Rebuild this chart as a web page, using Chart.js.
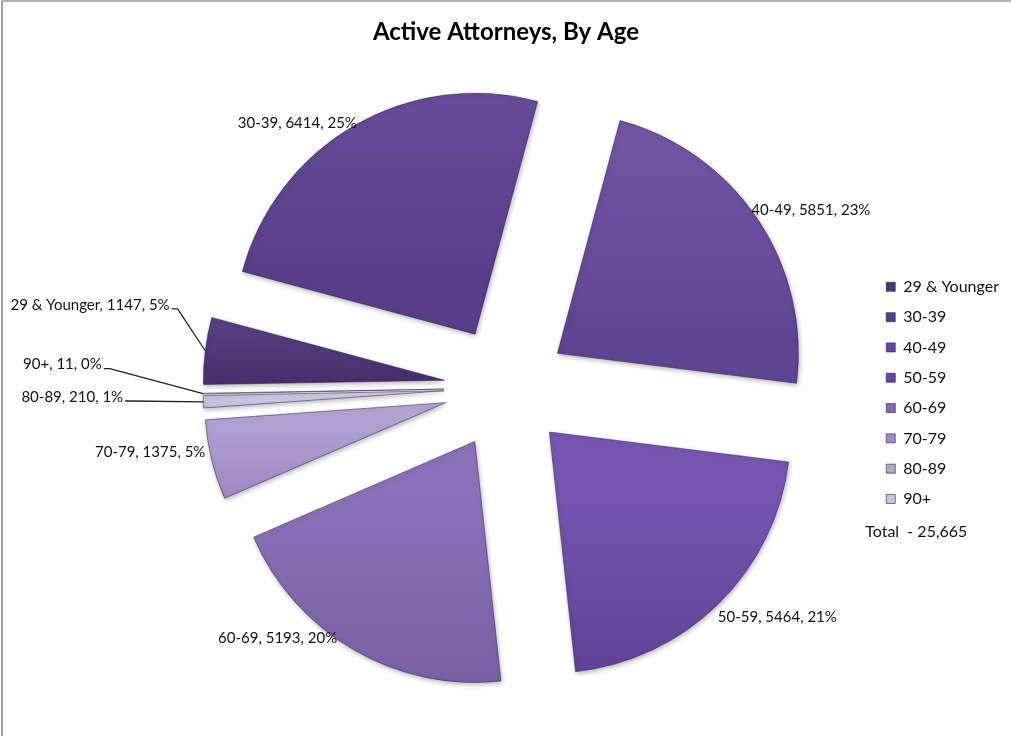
<!DOCTYPE html>
<html>
<head>
<meta charset="utf-8">
<title>Active Attorneys, By Age</title>
<script src="https://cdn.jsdelivr.net/npm/chart.js@4.4.1/dist/chart.umd.min.js"></script>
<style>
  html, body { margin: 0; padding: 0; background: #fff; }
  #frame {
    position: absolute; left: 1px; top: 0;
    width: 1008px; height: 734px;
    border-left: 2px solid #a3a3a3; border-top: 2px solid #b5b5b5;
  }
  canvas { display: block; }
</style>
</head>
<body>
<div id="frame"><canvas id="chartCanvas" width="1008" height="734"></canvas></div>
<script>
const ageGroups = ["29 & Younger", "30-39", "40-49", "50-59", "60-69", "70-79", "80-89", "90+"];
const attorneyCounts = [1147, 6414, 5851, 5464, 5193, 1375, 210, 11];
const percentLabels = [5, 25, 23, 21, 20, 5, 1, 0];

// slice shading (top -> bottom) and flat legend swatches
const sliceTop = ["#5c4489", "#6b4f9e", "#7658a9", "#7656b2", "#8a72b8", "#b2a3d4", "#d8d0ea", "#ece9f3"];
const sliceBottom = ["#46316d", "#583e88", "#5e4592", "#5b3f92", "#745ba0", "#9885bd", "#bfb4d6", "#d9d3e6"];
const legendColors = ["#4b3670", "#583e88", "#6845a0", "#6a42ad", "#8568b2", "#a18bc4", "#b3aac3", "#cac4d6"];

// label placement: degrees clockwise from 12 o'clock, distance in pie radii
const labelAngle = [281.3, 321.8, 59.7, 130.2, 222.4, 259.8, 268.8, 273.0];
const labelDist = [1.76, 1.40, 1.465, 1.474, 1.405, 1.50, 1.80, 1.843];
const leaderLines = [true, false, false, false, false, false, true, true];

const PIE_RADIUS = 241;
const EXPLODE = 62;
const ROTATION = 269;
const FONT = "Lato, 'Open Sans', sans-serif";

const total = attorneyCounts.reduce((a, b) => a + b, 0);

function sliceAngles(i) {
  let start = ROTATION;
  for (let k = 0; k < i; k++) start += attorneyCounts[k] / total * 360;
  return { start, end: start + attorneyCounts[i] / total * 360 };
}

// vertical gradient over the bounding box of each exploded slice
function sliceFill(context) {
  const chart = context.chart;
  const i = context.dataIndex;
  if (i === undefined) return sliceBottom[0];
  const area = chart.chartArea;
  if (!area) return sliceBottom[i];
  const cx = (area.left + area.right) / 2;
  const cy = (area.top + area.bottom) / 2;
  const { start, end } = sliceAngles(i);
  const mid = (start + end) / 2 * Math.PI / 180;
  const oy = cy - Math.cos(mid) * EXPLODE;
  let top = oy, bottom = oy;
  for (let s = 0; s <= 24; s++) {
    const a = (start + (end - start) * s / 24) * Math.PI / 180;
    const y = oy - Math.cos(a) * PIE_RADIUS;
    top = Math.min(top, y);
    bottom = Math.max(bottom, y);
  }
  if (bottom - top < 2) bottom = top + 2;
  const g = chart.ctx.createLinearGradient(0, top, 0, bottom);
  g.addColorStop(0, sliceTop[i]);
  g.addColorStop(1, sliceBottom[i]);
  return g;
}

// draw every arc pushed out along its bisector
const explodePlugin = {
  id: "explode",
  beforeDatasetDraw(chart, args) {
    const ctx = chart.ctx;
    args.meta.data.forEach((arc) => {
      const mid = (arc.startAngle + arc.endAngle) / 2;
      ctx.save();
      ctx.translate(Math.cos(mid) * EXPLODE, Math.sin(mid) * EXPLODE);
      ctx.shadowColor = "rgba(0,0,0,0.28)";
      ctx.shadowBlur = 5;
      ctx.shadowOffsetX = 1;
      ctx.shadowOffsetY = 2;
      arc.draw(ctx);
      ctx.restore();
    });
    return false;
  }
};

const labelPlugin = {
  id: "sliceLabels",
  afterDraw(chart) {
    const ctx = chart.ctx;
    const arcs = chart.getDatasetMeta(0).data;
    ctx.save();
    ctx.font = "15px " + FONT;
    ctx.fillStyle = "#111";
    ctx.strokeStyle = "#222";
    ctx.lineWidth = 1.3;
    ctx.textBaseline = "middle";
    ctx.textAlign = "center";
    arcs.forEach((arc, i) => {
      const text = `${ageGroups[i]}, ${attorneyCounts[i]}, ${percentLabels[i]}%`;
      const a = (labelAngle[i] - 90) * Math.PI / 180;
      const r = labelDist[i] * arc.outerRadius;
      const tx = arc.x + Math.cos(a) * r;
      const ty = arc.y + Math.sin(a) * r;
      ctx.fillText(text, tx, ty);
      if (leaderLines[i]) {
        const w = ctx.measureText(text).width;
        const mid = (arc.startAngle + arc.endAngle) / 2;
        const ex = arc.x + Math.cos(mid) * (EXPLODE + arc.outerRadius);
        const ey = arc.y + Math.sin(mid) * (EXPLODE + arc.outerRadius);
        const sx = tx + w / 2 + 2, sy = ty + 4;
        ctx.beginPath();
        ctx.moveTo(sx, sy);
        ctx.lineTo(sx + 6, sy);
        ctx.lineTo(ex, ey);
        ctx.stroke();
      }
    });

    // total line under the legend
    const hb = chart.legend.legendHitBoxes;
    if (hb && hb.length) {
      const last = hb[hb.length - 1];
      ctx.font = "16px " + FONT;
      ctx.textAlign = "left";
      ctx.fillText("Total  - " + total.toLocaleString("en-US"), hb[0].left - 21, last.top + last.height / 2 + 33);
    }
    ctx.restore();
  }
};

new Chart(document.getElementById("chartCanvas"), {
  type: "pie",
  data: {
    labels: ageGroups,
    datasets: [{
      data: attorneyCounts,
      backgroundColor: sliceFill,
      borderColor: "rgba(45,28,75,0.5)",
      borderWidth: 1
    }]
  },
  options: {
    responsive: false,
    animation: false,
    events: [],
    rotation: ROTATION,
    radius: PIE_RADIUS,
    layout: { padding: { left: 137, right: 2, top: 0, bottom: 14 } },
    plugins: {
      title: {
        display: true,
        fullSize: false,
        text: "Active Attorneys, By Age",
        color: "#000",
        font: { family: FONT, size: 24, weight: "bold" },
        padding: { top: 16, bottom: 7 }
      },
      legend: {
        position: "right",
        fullSize: false,
        title: { display: true, text: "", font: { size: 10, lineHeight: 1 }, padding: 0 },
        labels: {
          boxWidth: 9,
          boxHeight: 9,
          padding: 14.3,
          color: "#111",
          font: { family: FONT, size: 16 },
          generateLabels: () => ageGroups.map((g, i) => ({
            text: g,
            fillStyle: legendColors[i],
            strokeStyle: "rgba(40,25,70,0.6)",
            fontColor: "#111",
            lineWidth: 1,
            hidden: false,
            index: i
          }))
        }
      },
      tooltip: { enabled: false }
    }
  },
  plugins: [explodePlugin, labelPlugin]
});
</script>
</body>
</html>
